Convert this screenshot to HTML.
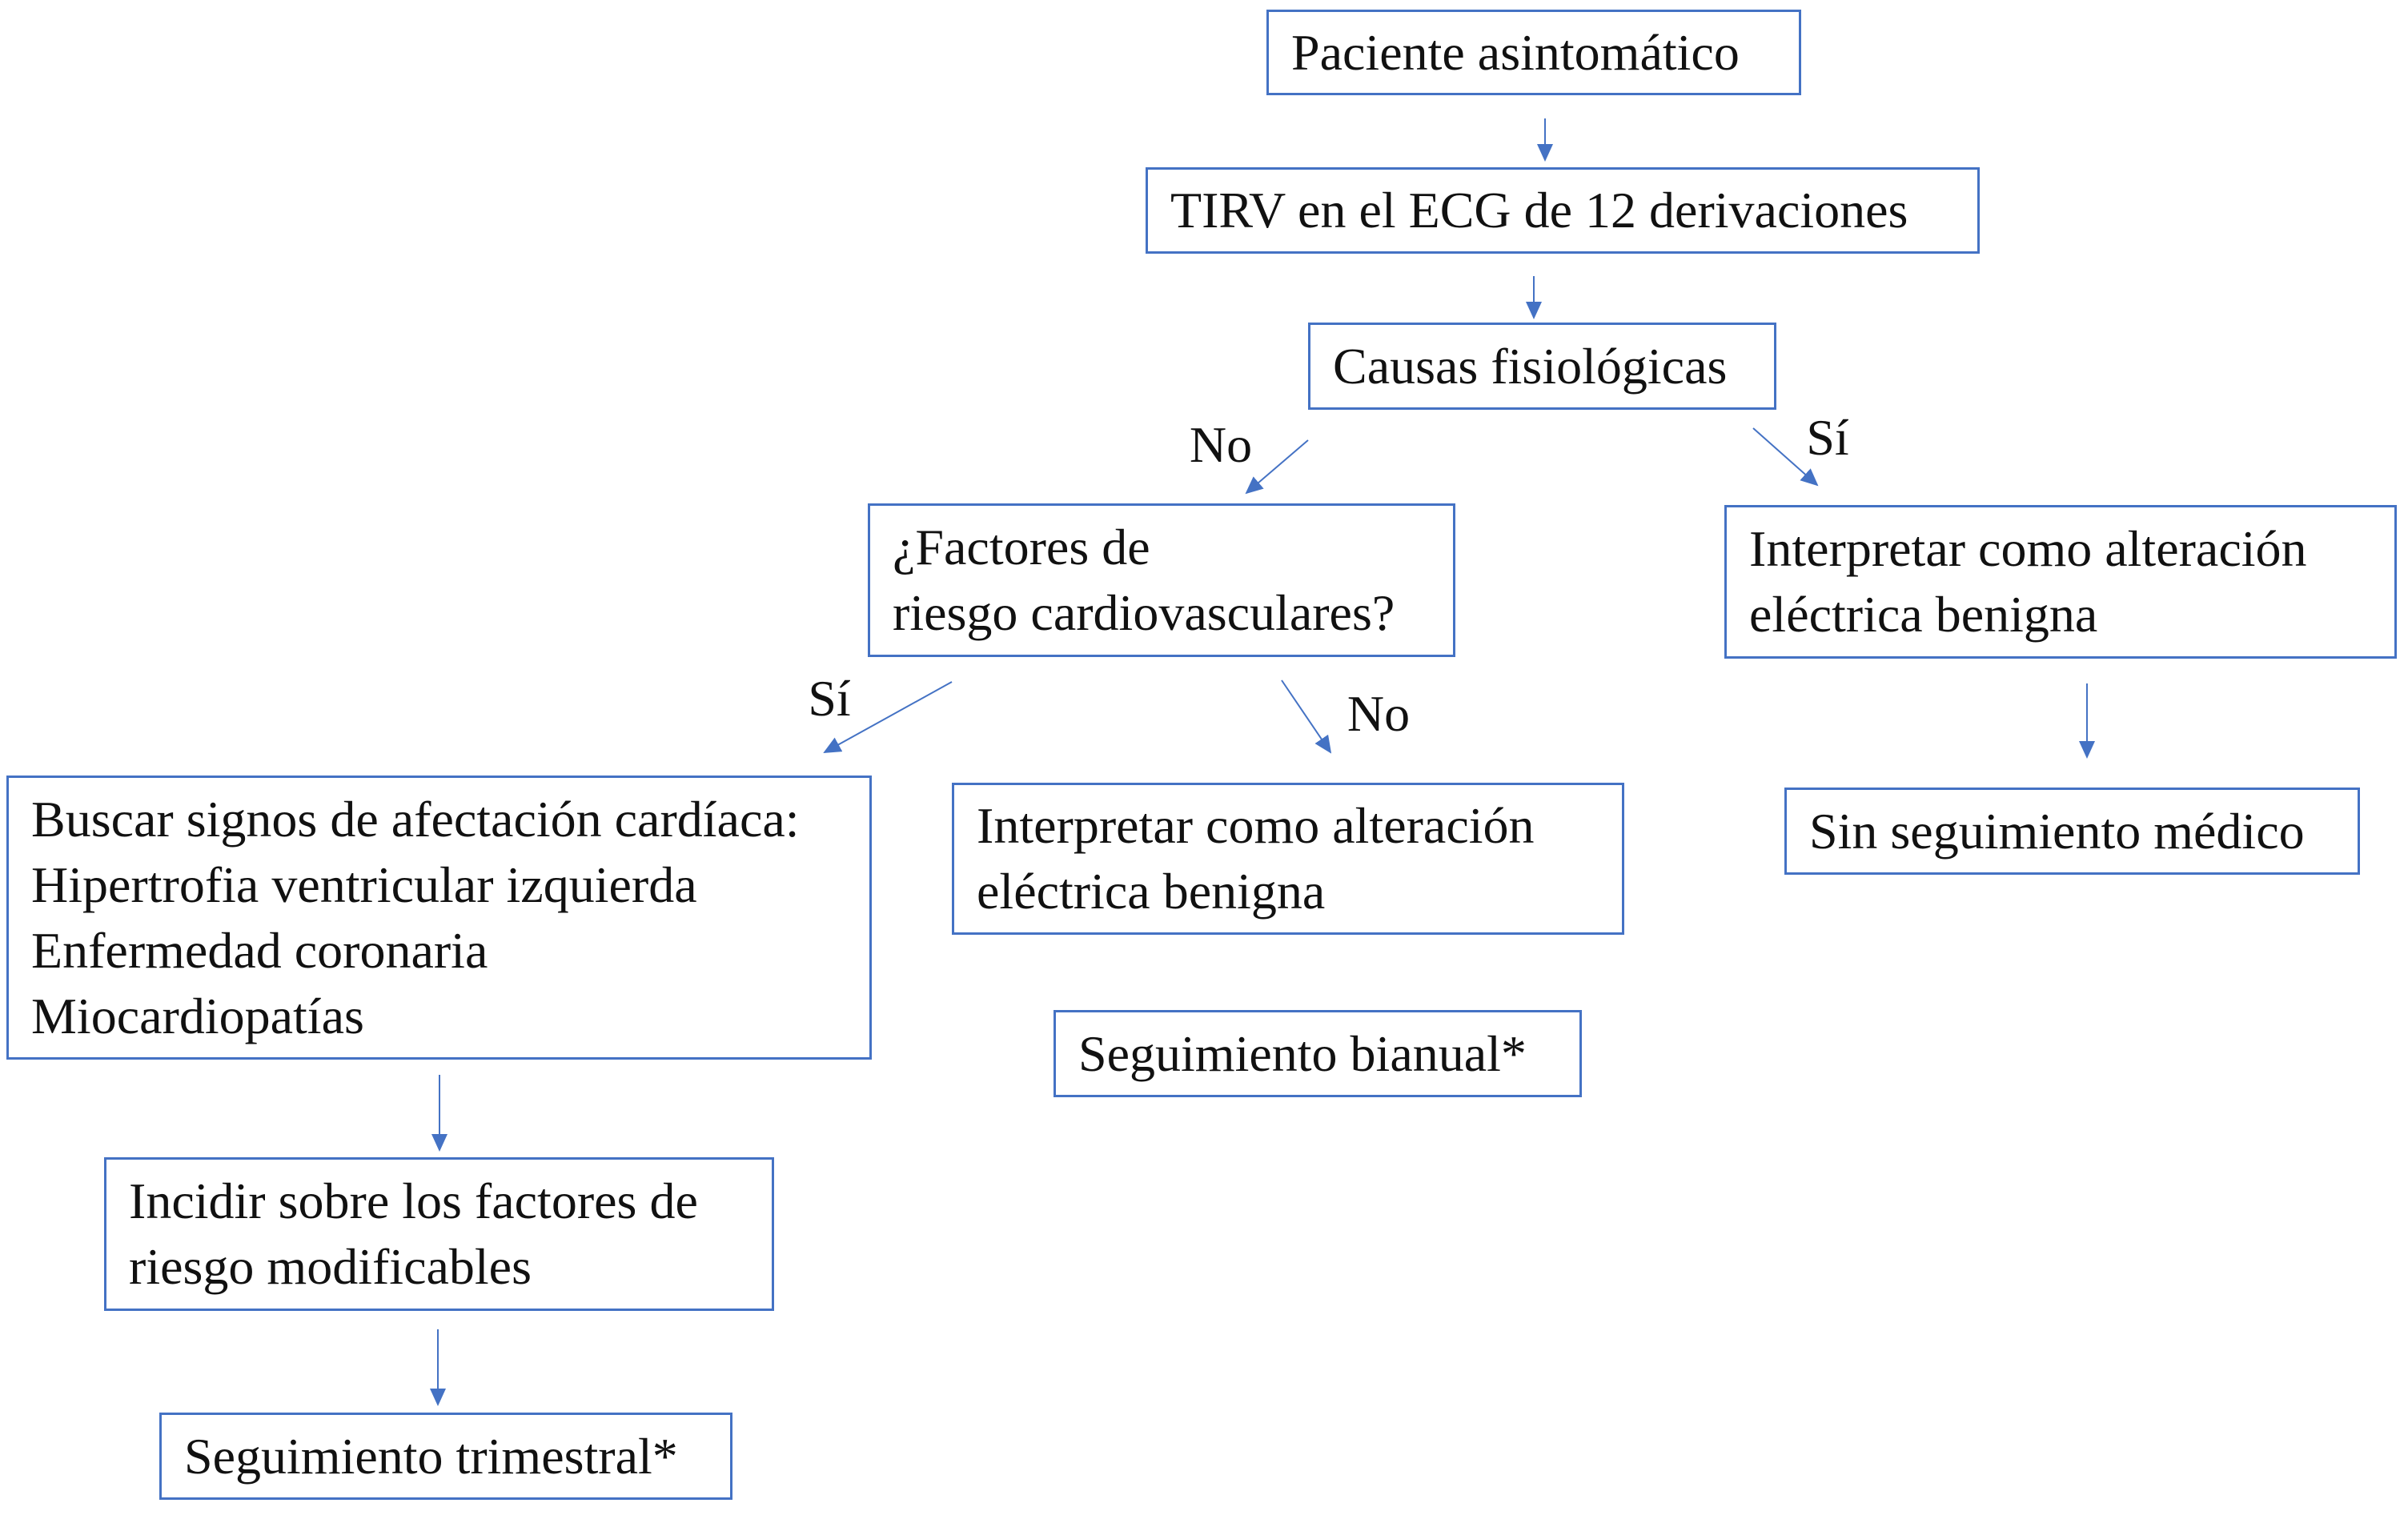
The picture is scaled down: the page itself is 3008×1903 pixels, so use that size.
<!DOCTYPE html>
<html><head><meta charset="utf-8"><style>
body{margin:0;width:3008px;height:1903px;background:#fff;position:relative;overflow:hidden;font-family:"Liberation Serif",serif;color:#111}
.b{position:absolute;border:3px solid #4472C4;box-sizing:border-box;font-size:64px;line-height:82px;padding:0 0 0 28px;display:flex;flex-direction:column;justify-content:center;white-space:nowrap}
.l{position:absolute;font-size:64px;line-height:64px;transform:translate(-50%,-50%)}
svg{position:absolute;left:0;top:0}
</style></head><body>
<svg width="3008" height="1903"><defs><marker id="a" markerWidth="8" markerHeight="8" refX="7" refY="4" orient="auto" markerUnits="userSpaceOnUse" viewBox="0 0 8 8"><path d="M0,0L8,4L0,8z" fill="#4472C4"/></marker>
<marker id="m" markerWidth="22" markerHeight="20" refX="20" refY="10" orient="auto" markerUnits="userSpaceOnUse"><path d="M0,0L22,10L0,20z" fill="#4472C4"/></marker></defs>
<g stroke="#4472C4" stroke-width="2" fill="none" marker-end="url(#m)">
<line x1="1930" y1="148" x2="1930" y2="200"/>
<line x1="1916" y1="345" x2="1916" y2="397"/>
<line x1="1634" y1="550" x2="1557" y2="616"/>
<line x1="2190" y1="535" x2="2270" y2="606"/>
<line x1="1189" y1="852" x2="1030" y2="940"/>
<line x1="1601" y1="850" x2="1662" y2="940"/>
<line x1="2607" y1="854" x2="2607" y2="946"/>
<line x1="549" y1="1343" x2="549" y2="1437"/>
<line x1="547" y1="1661" x2="547" y2="1755"/>
</g></svg>
<div class="b" style="left:1582px;top:12px;width:668px;height:107px">Paciente asintomático</div>
<div class="b" style="left:1431px;top:209px;width:1042px;height:108px">TIRV en el ECG de 12 derivaciones</div>
<div class="b" style="left:1634px;top:403px;width:585px;height:109px">Causas fisiológicas</div>
<div class="b" style="left:1084px;top:629px;width:734px;height:192px"><div>¿Factores de</div><div>riesgo cardiovasculares?</div></div>
<div class="b" style="left:2154px;top:631px;width:840px;height:192px"><div>Interpretar como alteración</div><div>eléctrica benigna</div></div>
<div class="b" style="left:8px;top:969px;width:1081px;height:355px"><div>Buscar signos de afectación cardíaca:</div><div>Hipertrofia ventricular izquierda</div><div>Enfermedad coronaria</div><div>Miocardiopatías</div></div>
<div class="b" style="left:1189px;top:978px;width:840px;height:190px"><div>Interpretar como alteración</div><div>eléctrica benigna</div></div>
<div class="b" style="left:2229px;top:984px;width:719px;height:109px">Sin seguimiento médico</div>
<div class="b" style="left:1316px;top:1262px;width:660px;height:109px">Seguimiento bianual*</div>
<div class="b" style="left:130px;top:1446px;width:837px;height:192px"><div>Incidir sobre los factores de</div><div>riesgo modificables</div></div>
<div class="b" style="left:199px;top:1765px;width:716px;height:109px">Seguimiento trimestral*</div>
<div class="l" style="left:1525px;top:556px">No</div>
<div class="l" style="left:2283px;top:547px">Sí</div>
<div class="l" style="left:1036px;top:873px">Sí</div>
<div class="l" style="left:1722px;top:892px">No</div>
</body></html>
